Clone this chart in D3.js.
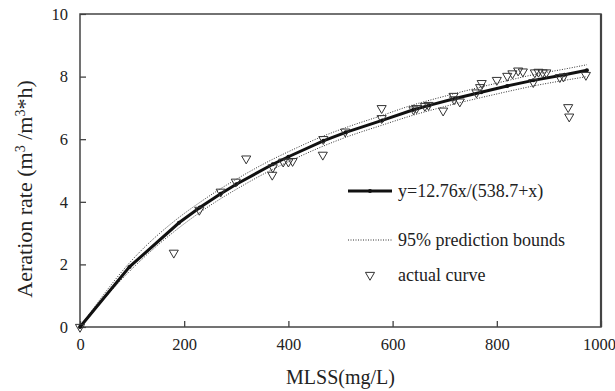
<!DOCTYPE html>
<html lang="en">
<head>
<meta charset="UTF-8">
<title>Aeration rate vs MLSS</title>
<script src="https://d3js.org/d3.v7.min.js"></script>
<style>
  body { margin: 0; background: #fff; }
  svg text { font-family: 'Liberation Serif', 'Times New Roman', serif; fill: #222; }
</style>
</head>
<body>
<svg width="615" height="391"></svg>
<script>
  // observed points (MLSS mg/L, aeration rate)
  const obsX = [0, 180, 229, 270, 299, 319, 369, 370, 390, 400, 408, 466, 467, 509, 579, 579,
                640, 646, 662, 669, 697, 717, 718, 729, 761, 768, 771, 800, 820, 830, 841, 850,
                870, 873, 880, 888, 895, 921, 928, 937, 939, 971];
  const obsY = [0, 2.37, 3.74, 4.32, 4.64, 5.38, 4.86, 5.1, 5.28, 5.28, 5.3, 5.5, 6.0, 6.24, 6.99, 6.67,
                6.95, 6.99, 7.06, 7.09, 6.91, 7.38, 7.27, 7.2, 7.49, 7.66, 7.79, 7.89, 8.02, 8.1, 8.19, 8.16,
                7.82, 8.13, 8.15, 8.13, 8.13, 7.98, 8.0, 7.02, 6.72, 8.05];

  // fitted curve y=12.76x/(538.7+x)
  const fitX = [0, 95, 190, 230, 270, 300, 370, 400, 467, 510, 580, 640, 670, 720, 770, 820, 870, 930, 973];
  const fitY = [0, 1.92, 3.33, 3.82, 4.26, 4.56, 5.2, 5.44, 5.95, 6.22, 6.6, 6.94, 7.08, 7.3, 7.5, 7.7, 7.88, 8.06, 8.2];
  const upperY = [0, 2.05, 3.5, 3.98, 4.42, 4.72, 5.36, 5.6, 6.1, 6.37, 6.76, 7.1, 7.24, 7.46, 7.67, 7.87, 8.06, 8.24, 8.38];
  const lowerY = [0, 1.78, 3.17, 3.66, 4.1, 4.4, 5.04, 5.28, 5.78, 6.06, 6.45, 6.77, 6.91, 7.13, 7.33, 7.52, 7.7, 7.88, 8.0];

  const xTicks = [0, 200, 400, 600, 800, 1000];
  const yTicks = [0, 2, 4, 6, 8, 10];

  const serif = "'Liberation Serif', 'Times New Roman', serif";

  const svg = d3.select("svg");
  const margin = { top: 14, right: 14, bottom: 64, left: 80 };
  const width = +svg.attr("width") - margin.left - margin.right;
  const height = +svg.attr("height") - margin.top - margin.bottom;
  const g = svg.append("g").attr("transform", `translate(${margin.left},${margin.top})`);

  const x = d3.scaleLinear().domain([0, 1000]).range([0, width]);
  const y = d3.scaleLinear().domain([0, 10]).range([height, 0]);

  // Axes, ticks pointing inward
  const xAxis = g.append("g")
    .attr("transform", `translate(0,${height})`)
    .call(d3.axisBottom(x).tickValues(xTicks).tickFormat(d3.format("d"))
      .tickSizeInner(-6).tickSizeOuter(0).tickPadding(11));

  const yAxis = g.append("g")
    .call(d3.axisLeft(y).tickValues(yTicks).tickFormat(d3.format("d"))
      .tickSizeInner(-6).tickSizeOuter(0).tickPadding(12));

  [xAxis, yAxis].forEach(a => {
    a.attr("font-family", serif).attr("font-size", 16.5);
    a.select(".domain").remove();
    a.selectAll(".tick line").attr("stroke", "#333").attr("stroke-width", 1.2);
    a.selectAll(".tick text").attr("fill", "#222");
  });
  // keep the last label inside the page
  xAxis.selectAll(".tick text").filter(d => d === 1000).attr("dx", -2);

  // frame
  g.append("rect")
    .attr("width", width).attr("height", height)
    .attr("fill", "none").attr("stroke", "#444").attr("stroke-width", 1.5);
  g.append("line")
    .attr("x1", width).attr("x2", width).attr("y1", 0).attr("y2", height)
    .attr("stroke", "#444").attr("stroke-width", 2.2);

  const line = d3.line().x(d => x(d[0])).y(d => y(d[1]));

  // prediction bounds
  [upperY, lowerY].forEach(ys => {
    g.append("path")
      .datum(fitX.map((v, i) => [v, ys[i]]))
      .attr("fill", "none")
      .attr("stroke", "#333")
      .attr("stroke-width", 1)
      .attr("stroke-dasharray", "1,1.5")
      .attr("d", d3.line().x(d => x(d[0])).y(d => y(d[1])).curve(d3.curveMonotoneX));
  });

  // fitted line
  const fitData = fitX.map((v, i) => [v, fitY[i]]);
  g.append("path")
    .datum(fitData)
    .attr("fill", "none")
    .attr("stroke", "#111")
    .attr("stroke-width", 3)
    .attr("d", line);
  g.selectAll(".fitdot")
    .data(fitData)
    .enter().append("circle")
    .attr("class", "fitdot")
    .attr("cx", d => x(d[0])).attr("cy", d => y(d[1]))
    .attr("r", 2).attr("fill", "#111");

  // observed points, open down triangles
  const tri = d3.symbol(d3.symbolTriangle).size(36);
  g.selectAll(".obs")
    .data(obsX.map((v, i) => [v, obsY[i]]))
    .enter().append("path")
    .attr("class", "obs")
    .attr("d", tri)
    .attr("transform", d => `translate(${x(d[0])},${y(d[1])}) rotate(180)`)
    .attr("fill", "none")
    .attr("stroke", "#333")
    .attr("stroke-width", 1);

  // Axis titles
  svg.append("text")
    .attr("x", margin.left + width / 2)
    .attr("y", 384)
    .attr("text-anchor", "middle")
    .attr("font-family", serif)
    .attr("font-size", 20)
    .text("MLSS(mg/L)");

  const yt = svg.append("text")
    .attr("transform", "translate(32,189) rotate(-90)")
    .attr("text-anchor", "middle")
    .attr("font-family", serif)
    .attr("font-size", 22);
  yt.append("tspan").text("Aeration rate (m");
  yt.append("tspan").attr("baseline-shift", "super").attr("font-size", 14).text("3");
  yt.append("tspan").text(" /m");
  yt.append("tspan").attr("baseline-shift", "super").attr("font-size", 14).text("3");
  yt.append("tspan").text("*h)");

  // Legend
  const lg = svg.append("g").attr("transform", "translate(348,0)")
    .attr("font-family", serif).attr("font-size", 18);
  lg.append("line").attr("x1", 0).attr("x2", 44).attr("y1", 191).attr("y2", 191)
    .attr("stroke", "#111").attr("stroke-width", 3);
  lg.append("circle").attr("cx", 22).attr("cy", 191).attr("r", 2).attr("fill", "#111");
  lg.append("text").attr("x", 50).attr("y", 197).text("y=12.76x/(538.7+x)");

  lg.append("line").attr("x1", 0).attr("x2", 44).attr("y1", 240).attr("y2", 240)
    .attr("stroke", "#333").attr("stroke-width", 1).attr("stroke-dasharray", "1,1.5");
  lg.append("text").attr("x", 50).attr("y", 246).text("95% prediction bounds");

  lg.append("path").attr("d", tri)
    .attr("transform", "translate(22,275) rotate(180)")
    .attr("fill", "none").attr("stroke", "#333").attr("stroke-width", 1);
  lg.append("text").attr("x", 50).attr("y", 281).text("actual curve");
</script>
</body>
</html>
